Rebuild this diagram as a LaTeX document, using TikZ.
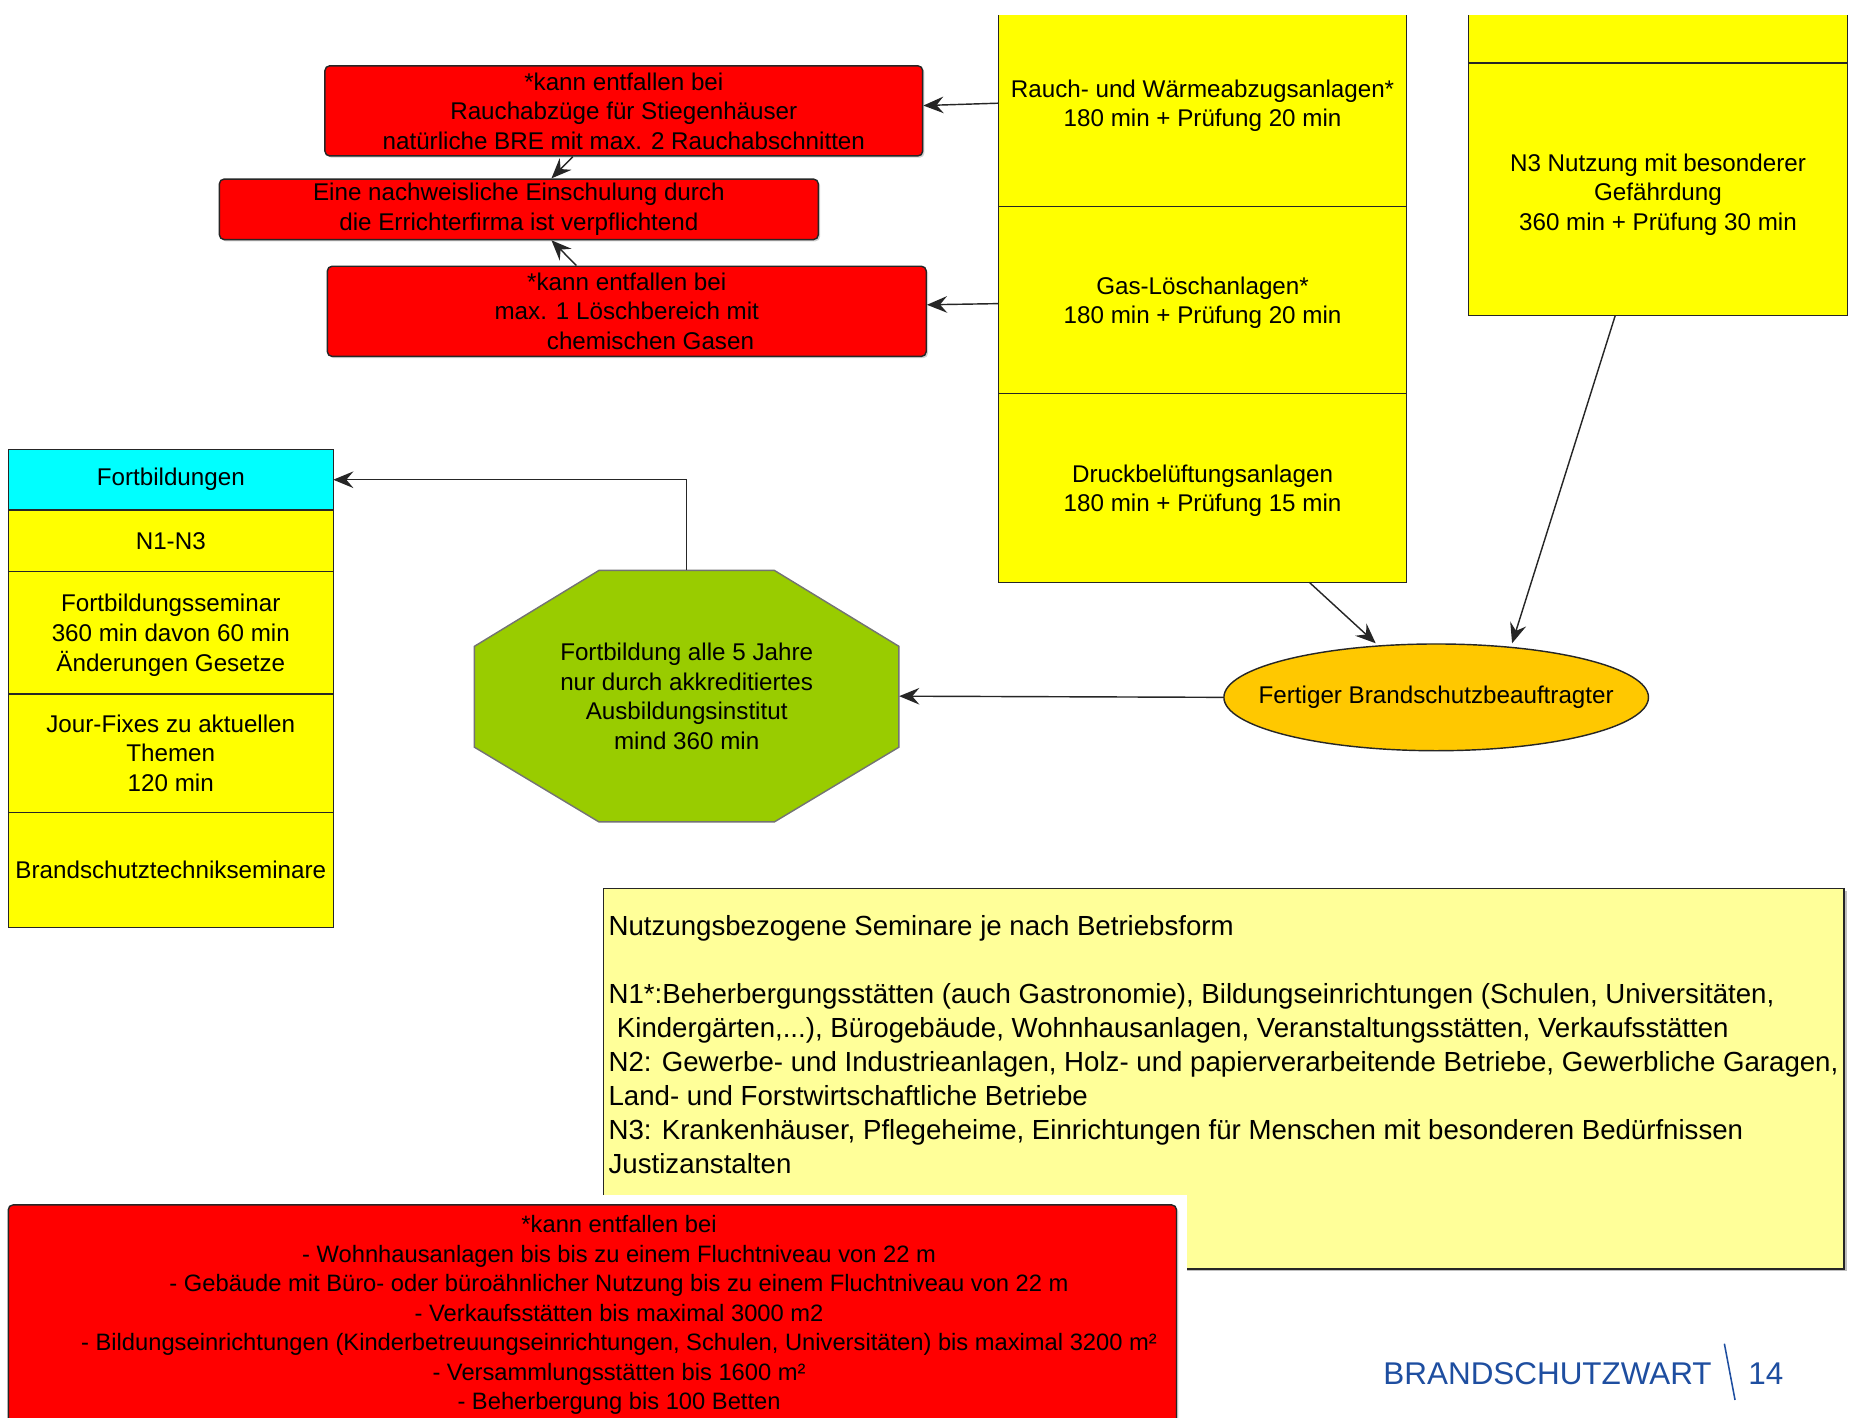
\documentclass[tikz,border=0pt]{standalone}
\usepackage{fontspec}
\setmainfont{Liberation Sans}
\usetikzlibrary{positioning, shapes.geometric, arrows.meta, shadows}

\definecolor{boxyellow}{HTML}{FFFF00}
\definecolor{notebg}{HTML}{FFFF99}
\definecolor{boxred}{HTML}{FF0000}
\definecolor{headcyan}{HTML}{00FFFF}
\definecolor{octgreen}{HTML}{99CC00}
\definecolor{ovalorange}{HTML}{FFC800}
\definecolor{footblue}{HTML}{1E4EA0}

\newcommand{\boxfont}{\fontsize{20.4}{24.9}\selectfont}
\newcommand{\listfont}{\fontsize{20}{24.9}\selectfont}
\newcommand{\notefont}{\fontsize{23.3}{28.7}\selectfont}
\newcommand{\footfont}{\fontsize{26.5}{30}\selectfont}

\tikzset{
    node distance=0pt and 0pt,% stacked cells touch each other
    cell/.style={rectangle, draw=black!85, line width=1.2pt, fill=boxyellow, align=center, inner sep=0pt, outer sep=0pt, font=\boxfont},
    redbox/.style={rectangle, rounded corners=4pt, draw=black!85, line width=1.2pt, fill=boxred, align=center, inner sep=0pt, font=\boxfont,
        drop shadow={shadow xshift=1.5pt, shadow yshift=-1.5pt, opacity=0.35}},
    arr/.style={draw=black!85, line width=1.2pt, -{Stealth[length=17pt, width=14pt, inset=6pt]}},
}

\begin{document}
\begin{tikzpicture}[x=1pt, y=-1pt]
    \useasboundingbox (0,0) rectangle (1565,1195);
    \clip (0,0) rectangle (1565,1195);
    \fill[white] (0,0) rectangle (1565,1195);

    % Anlagen und N3 (cut at the top)
    \begin{scope}
        \clip (820,13) rectangle (1565,520);
        \node[cell, minimum width=344pt, minimum height=174pt] (rauch) at (1014,87) {\rule{0pt}{19pt}Rauch- und Wärmeabzugsanlagen*\\180 min + Prüfung 20 min};
        \node[cell, minimum width=344pt, minimum height=158pt, below=of rauch] (gas) {\rule{0pt}{19pt}Gas-Löschanlagen*\\180 min + Prüfung 20 min};
        \node[cell, minimum width=344pt, minimum height=159pt, below=of gas] (druck) {\rule{0pt}{19pt}Druckbelüftungsanlagen\\180 min + Prüfung 15 min};
        \node[cell, minimum width=320pt, minimum height=63pt] (ntop) at (1398,21.5) {};
        \node[cell, minimum width=320pt, minimum height=213pt, below=of ntop] (nthree) {\rule{0pt}{24pt}N3 Nutzung mit besonderer\\Gefährdung\\360 min + Prüfung 30 min};
    \end{scope}

    % Ausnahmen
    \node[redbox, minimum width=504pt, minimum height=76pt] (rone) at (526,93.5) {*kann entfallen bei\\Rauchabzüge für Stiegenhäuser\\natürliche BRE mit max. 2 Rauchabschnitten};
    \node[redbox, minimum width=505pt, minimum height=51pt] (rtwo) at (437.5,176.5) {Eine nachweisliche Einschulung durch\\die Errichterfirma ist verpflichtend};
    \node[redbox, minimum width=505pt, minimum height=76pt] (rthree) at (528.5,262.5) {*kann entfallen bei\\max. 1 Löschbereich mit\\\hspace*{40pt}chemischen Gasen};

    % Fortbildungen
    \node[cell, fill=headcyan, minimum width=274pt, minimum height=51pt] (fort) at (144,404.5) {Fortbildungen};
    \node[cell, minimum width=274pt, minimum height=52pt, below=of fort] (nall) {N1-N3};
    \node[cell, minimum width=274pt, minimum height=103pt, below=of nall] (fseminar) {\rule{0pt}{19pt}Fortbildungsseminar\\360 min davon 60 min\\Änderungen Gesetze};
    \node[cell, minimum width=274pt, minimum height=100pt, below=of fseminar] (jour) {Jour-Fixes zu aktuellen\\Themen\\120 min};
    \node[cell, minimum width=274pt, minimum height=97pt, below=of jour] (bseminar) {Brandschutztechnikseminare};

    % octagon
    \filldraw[fill=octgreen, draw=black!55, line width=1.2pt] (505,481) -- (653,481) -- (758,545) -- (758,630) -- (653,693) -- (505,693) -- (400,630) -- (400,545) -- cycle;
    \node[align=center, font=\boxfont, minimum width=358pt, minimum height=212pt, inner sep=0pt] (oct) at (579,587) {Fortbildung alle 5 Jahre\\nur durch akkreditiertes\\Ausbildungsinstitut\\mind 360 min};

    \node[ellipse, draw=black!85, line width=1.2pt, fill=ovalorange, minimum width=358pt, minimum height=90pt, inner sep=0pt,
        label={[font=\boxfont]center:Fertiger Brandschutzbeauftragter}] (fertig) at (1211,588) {};

    % Nutzungen
    \node[rectangle, draw=black!85, line width=1.2pt, fill=notebg, minimum width=1046pt, minimum height=321pt,
        drop shadow={shadow xshift=2pt, shadow yshift=-2pt, opacity=0.5}] (note) at (1032,909.5) {};
    \node[anchor=north west, align=left, inner sep=0pt, font=\notefont] (notetext) at (513,771.5) {Nutzungsbezogene Seminare je nach Betriebsform\\[28.7pt]
        N1*:Beherbergungsstätten (auch Gastronomie), Bildungseinrichtungen (Schulen, Universitäten,\\
        \hspace*{7pt}Kindergärten,...), Bürogebäude, Wohnhausanlagen, Veranstaltungsstätten, Verkaufsstätten\\
        N2: Gewerbe- und Industrieanlagen, Holz- und papierverarbeitende Betriebe, Gewerbliche Garagen,\\
        Land- und Forstwirtschaftliche Betriebe\\
        N3: Krankenhäuser, Pflegeheime, Einrichtungen für Menschen mit besonderen Bedürfnissen\\
        Justizanstalten};

    \fill[white] (0,1008) rectangle (1001,1195);
    \node[redbox, minimum width=985pt, minimum height=185pt] (rfour) at (499.5,1108.5) {};
    \node[align=center, font=\listfont, inner sep=0pt] (rfourtext) at (522,1109) {*kann entfallen bei\\
        - Wohnhausanlagen bis bis zu einem Fluchtniveau von 22 m\\
        - Gebäude mit Büro- oder büroähnlicher Nutzung bis zu einem Fluchtniveau von 22 m\\
        - Verkaufsstätten bis maximal 3000 m2\\
        - Bildungseinrichtungen (Kinderbetreuungseinrichtungen, Schulen, Universitäten) bis maximal 3200 m²\\
        - Versammlungsstätten bis 1600 m²\\
        - Beherbergung bis 100 Betten};

    % connectors
    \draw[arr] (rauch.west) -- ([yshift=4.5pt]rone.east);
    \draw[arr] ([yshift=-3pt]gas.west) -- ([yshift=5.5pt]rthree.east);
    \draw[arr] ([xshift=-43pt]rone.south) -- ([xshift=27.5pt]rtwo.north);
    \draw[arr] ([xshift=-42.5pt]rthree.north) -- ([xshift=27.5pt]rtwo.south);
    \draw[arr] ([xshift=90pt]druck.south) -- ([xshift=-51pt]fertig.north);
    \draw[arr] ([xshift=-36pt]nthree.south) -- ([xshift=64pt]fertig.north);
    \draw[arr] (fertig.west) -- (oct.east);
    \draw[arr] (oct.north) |- (fort.east);

    % footer
    \node[font=\footfont, text=footblue, anchor=east, inner sep=0pt] (footname) at (1443.5,1158) {BRANDSCHUTZWART};
    \draw[footblue, line width=1.3pt] (1454,1133) -- (1463,1180.5);
    \node[font=\footfont, text=footblue, anchor=west, inner sep=0pt] (footpage) at (1474,1158) {14};
\end{tikzpicture}
\end{document}
